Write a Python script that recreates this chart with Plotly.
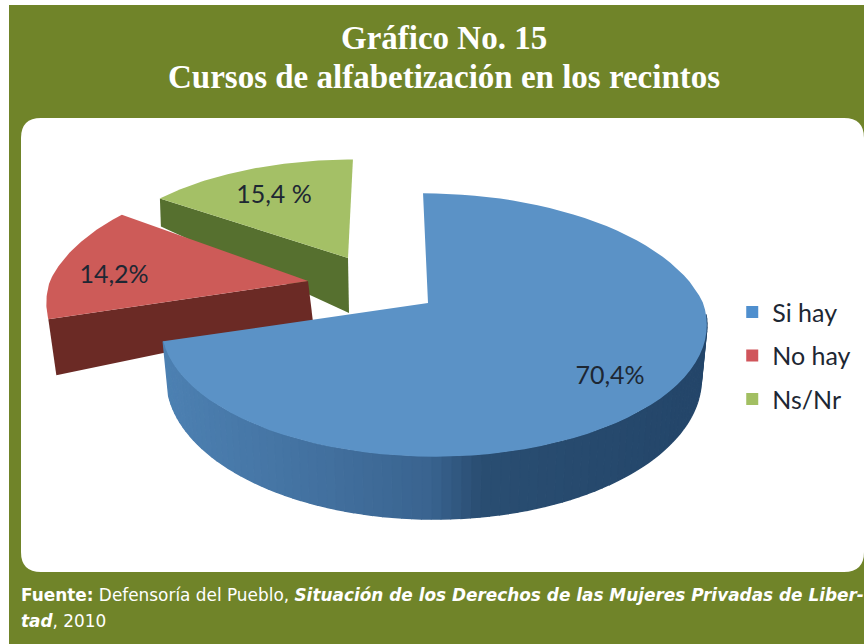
import numpy as np
import plotly.graph_objects as go

# ---- data ----
categories = ["Si hay", "No hay", "Ns/Nr"]
values = [70.4, 14.2, 15.4]
value_labels = ["70,4%", "14,2%", "15,4 %"]
title_lines = ["Gráfico No. 15", "Cursos de alfabetización en los recintos"]

# ---- styles ----
top_colors = ["#5B92C6", "#CD5B58", "#A4C066"]
wall_colors = [None, "#6B2A25", "#56702F"]
legend_colors = ["#4F8FCE", "#D0555B", "#A2BF62"]
blue_wall_stops = [(150, (78, 130, 180)), (330, (66, 112, 158)), (430, (58, 100, 144)),
                   (480, (42, 78, 114)), (700, (36, 70, 106))]
PANEL = "#708429"

# ---- pseudo-3D projection of the slices (exploded pie, page pixel space) ----
cx = [428, 308, 348]
cy = [303, 281, 258]
rim_dx = [6, 0, 0]
radius = [269, 258, 254]
flat = [128, 128, 115]
skew = [0.1, -0.12, -0.05]
persp = 0.167
DEPTH = 52
TAPER = 0.98
wall_rim_depth = [None, 56, 28]
wall_apex_depth = [None, 41, 55]
wall_rim_dx = [None, 8, 1]
wall_apex_dx = [None, 5, 1]
label_x = [610, 114, 274]
label_y = [378, 277, 197]


def project(i, theta):
    s = 1 / (1 + persp * np.cos(theta))
    dy = -flat[i] * np.cos(theta) * s
    x = cx[i] + rim_dx[i] + radius[i] * np.sin(theta) * s + skew[i] * np.minimum(dy, 0)
    return x, cy[i] + dy, s


fracs = np.array(values) / sum(values) * 2 * np.pi
edges = np.concatenate([[0], np.cumsum(fracs)])

fig = go.Figure()


def polygon(xs, ys, color, line=0.0):
    fig.add_trace(go.Scatter(x=list(xs), y=list(ys), mode="lines", fill="toself", fillcolor=color,
                             line=dict(color=color, width=line), hoverinfo="skip", showlegend=False))


def blue_color(x):
    stops_x = [p[0] for p in blue_wall_stops]
    rgb = [np.interp(x, stops_x, [p[1][k] for p in blue_wall_stops]) for k in range(3)]
    return "rgb(%d,%d,%d)" % tuple(rgb)


# drawing order: back slices first
for i in [2, 1, 0]:
    t = np.linspace(edges[i], edges[i + 1], 80)
    x, y, s = project(i, t)
    if i == 0:
        tw = np.linspace(np.radians(95), edges[1], 90)
        xw, yw, sw = project(0, tw)
        mid = cx[0] + rim_dx[0]
        xb = mid + (xw - mid) * TAPER
        yb = yw + DEPTH * sw
        for k in range(len(tw) - 1):
            polygon([xw[k], xw[k + 1], xb[k + 1], xb[k]], [yw[k], yw[k + 1], yb[k + 1], yb[k]],
                    blue_color((xw[k] + xw[k + 1]) / 2), 1.5)
    else:
        rx, ry, _ = project(i, edges[i])
        polygon([rx, cx[i], cx[i] + wall_apex_dx[i], rx + wall_rim_dx[i]],
                [ry, cy[i], cy[i] + wall_apex_depth[i], ry + wall_rim_depth[i]], wall_colors[i])
    polygon(np.concatenate([[cx[i]], x, [cx[i]]]), np.concatenate([[cy[i]], y, [cy[i]]]), top_colors[i])

# value labels
fig.add_trace(go.Scatter(x=label_x, y=label_y, mode="text", text=value_labels, textposition="middle center",
                         textfont=dict(family="Lato", size=25, color="#1D2733"),
                         hoverinfo="skip", showlegend=False))

# legend entries
for name, col in zip(categories, legend_colors):
    fig.add_trace(go.Scatter(x=[None], y=[None], mode="markers", name=name, legendgroup=name,
                             marker=dict(symbol="square", size=15, color=col)))

shapes = [
    dict(type="rect", xref="x", yref="y", x0=9, x1=864, y0=5, y1=644, fillcolor=PANEL,
         line=dict(width=0), layer="below"),
    dict(type="path", xref="x", yref="y", layer="below", fillcolor="white", line=dict(width=0),
         path="M 41 118 L 844 118 Q 864 118 864 138 L 864 552 Q 864 572 844 572 L 41 572 "
              "Q 21 572 21 552 L 21 138 Q 21 118 41 118 Z"),
]

annotations = [
    dict(x=444, y=38, text=f"<b>{title_lines[0]}</b>", font=dict(family="Liberation Serif", size=33, color="white")),
    dict(x=444, y=77, text=f"<b>{title_lines[1]}</b>", font=dict(family="Liberation Serif", size=33, color="white")),
    dict(x=19, y=595, xanchor="left", align="left",
         text="<b>Fuente:</b> Defensoría del Pueblo, <b><i>Situación de los Derechos de las Mujeres Privadas de Liber-</i></b>",
         font=dict(family="DejaVu Sans", size=16.9, color="white")),
    dict(x=19, y=621, xanchor="left", align="left", text="<b><i>tad</i></b>, 2010",
         font=dict(family="DejaVu Sans", size=16.9, color="white")),
]
for a in annotations:
    a.update(xref="x", yref="y", showarrow=False)

fig.update_layout(
    width=864, height=644, margin=dict(l=0, r=0, t=0, b=0),
    paper_bgcolor="white", plot_bgcolor="white",
    xaxis=dict(range=[0, 864], visible=False, fixedrange=True),
    yaxis=dict(range=[644, 0], visible=False, fixedrange=True),
    shapes=shapes, annotations=annotations,
    legend=dict(x=0.8475, y=0.551, xanchor="left", yanchor="top", bgcolor="rgba(0,0,0,0)",
                font=dict(family="Lato", size=25, color="#1D2733"),
                tracegroupgap=8, itemsizing="constant", itemwidth=30),
)

fig.write_html("out.html", config={"displayModeBar": False},
               post_script="document.body.style.margin='0';document.body.style.overflow='hidden';"
                           "document.documentElement.style.overflow='hidden';")
